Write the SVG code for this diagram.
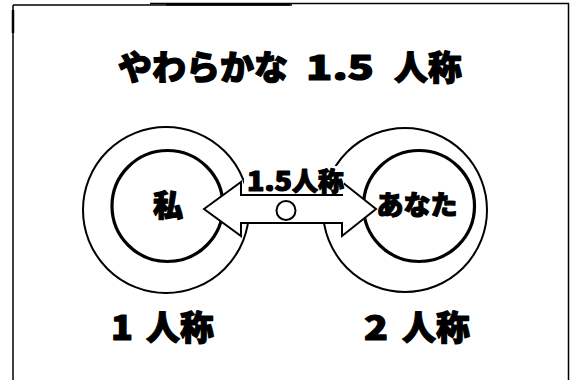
<svg xmlns="http://www.w3.org/2000/svg" width="572" height="380" viewBox="0 0 572 380">
<style>
.t{font-family:"Noto Sans CJK JP","Noto Sans CJK SC",sans-serif;font-weight:900;fill:#000;stroke:#000;stroke-width:1.2;stroke-linejoin:round}
.outer{fill:none;stroke:#000;stroke-width:2}
.inner{fill:none;stroke:#000;stroke-width:3.2}
.frame{stroke:#000;stroke-width:1.5;fill:none}
</style>
<rect width="572" height="380" fill="#fff"/>
<g id="frame">
<line class="frame" x1="13" y1="5" x2="13" y2="380"/>
<line class="frame" x1="13" y1="5" x2="292" y2="5"/>
<line x1="166" y1="4.5" x2="290" y2="4.5" stroke="#000" stroke-width="2"/>
<line class="frame" x1="150" y1="3.5" x2="569" y2="3.5"/>
<line class="frame" x1="568.5" y1="3" x2="568.5" y2="380"/>
<line x1="13" y1="10" x2="13" y2="33" stroke="#000" stroke-width="2.5"/>
</g>
<g id="title">
<text class="t" font-size="34" y="80"><tspan x="118">やわらかな</tspan><tspan x="306" textLength="68" lengthAdjust="spacingAndGlyphs">1.5</tspan><tspan x="394">人称</tspan></text>
</g>
<g id="node-watashi">
<circle class="outer" cx="166" cy="210" r="83"/>
<circle class="inner" cx="167.5" cy="206" r="55.5"/>
</g>
<g id="node-anata">
<circle class="outer" cx="405" cy="210" r="82"/>
<circle class="inner" cx="419" cy="206" r="55.5"/>
</g>
<g id="connectors">
<polygon points="204,209 241,182 241,195 342,195 342,182 376,209 342,236 342,223 241,223 241,236" fill="#fff" stroke="#000" stroke-width="2" stroke-linejoin="miter"/>
<circle cx="286" cy="210.5" r="9.5" fill="#fff" stroke="#000" stroke-width="2"/>
<rect x="244" y="166" width="100" height="28" fill="#fff"/>
<text class="t" font-size="26" y="191"><tspan x="247" textLength="45" lengthAdjust="spacingAndGlyphs">1.5</tspan><tspan x="292">人称</tspan></text>
</g>
<g id="labels">
<text class="t" font-size="30" x="168" y="216" text-anchor="middle">私</text>
<text class="t" font-size="27" x="417" y="215" text-anchor="middle">あなた</text>
<text class="t" font-size="34" y="340"><tspan x="111" textLength="22" lengthAdjust="spacingAndGlyphs">1</tspan><tspan x="146">人称</tspan></text>
<text class="t" font-size="34" y="340"><tspan x="364" textLength="24" lengthAdjust="spacingAndGlyphs">2</tspan><tspan x="402">人称</tspan></text>
</g>
</svg>
